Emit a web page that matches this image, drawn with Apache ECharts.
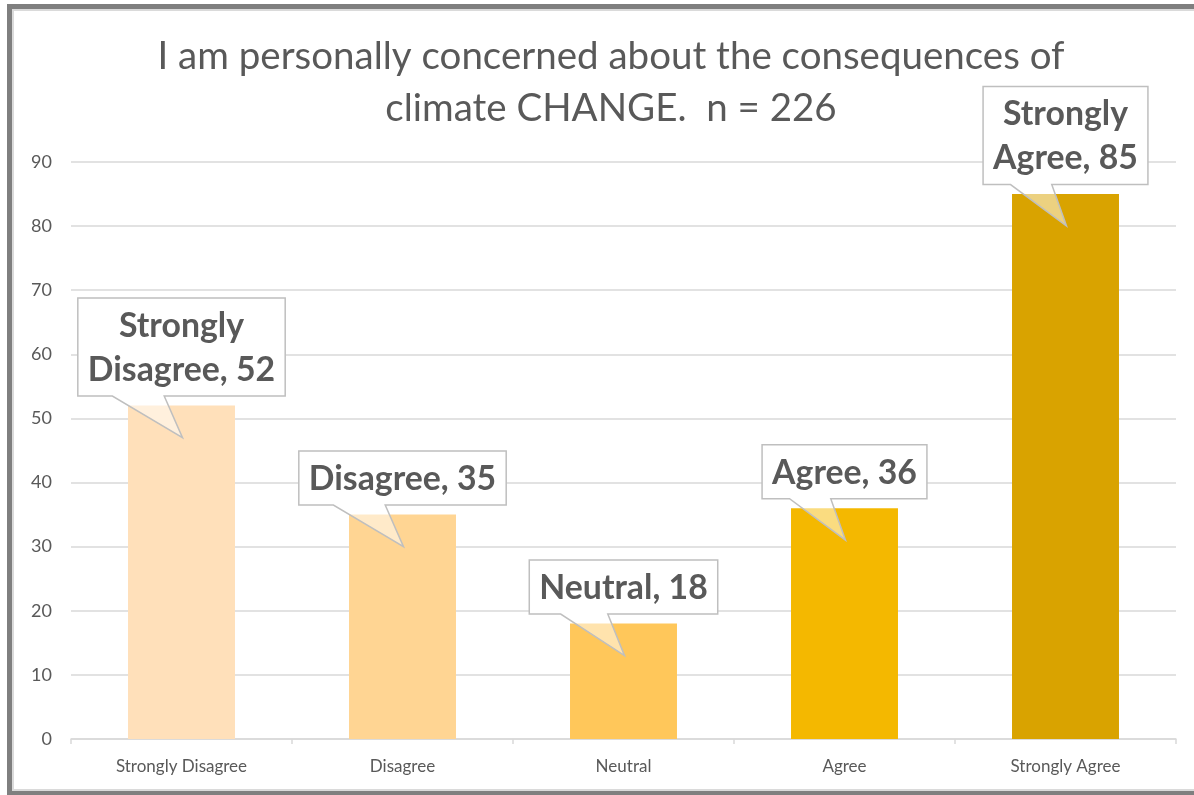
<!DOCTYPE html>
<html>
<head>
<meta charset="utf-8">
<script src="https://cdn.jsdelivr.net/npm/echarts@6/dist/echarts.min.js"></script>
<style>
html,body{margin:0;padding:0;background:#fff;}
#chart{position:absolute;left:0;top:0;width:1194px;height:795px;}
#frame{position:absolute;left:7px;top:4px;width:1210px;height:792px;box-sizing:border-box;border:5px solid #7f7f7f;box-shadow:inset 0 0 0 2px #dadada;pointer-events:none;}
</style>
</head>
<body>
<div id="chart"></div>
<div id="frame"></div>
<script>
const titleText = 'I am personally concerned about the consequences of\nclimate CHANGE.  n = 226';
const categories = ['Strongly Disagree', 'Disagree', 'Neutral', 'Agree', 'Strongly Agree'];
const values = [52, 35, 18, 36, 85];
const yMax = 90;
const yInterval = 10;

const palette = ['#FFE0BA', '#FFD593', '#FFC75A', '#F4B800', '#D9A300'];
const FONT = 'Lato';
const LBL_SIZE = 33.8;
const LBL_LH = 44;

const labelLines = categories.map((c, i) => {
  if (c.indexOf('Strongly ') === 0) return ['Strongly', c.slice(9) + ', ' + values[i]];
  return [c + ', ' + values[i]];
});

const mctx = document.createElement('canvas').getContext('2d');
mctx.font = 'bold ' + LBL_SIZE + 'px ' + FONT;

function renderCallout(params, api) {
  const idx = api.value(0);
  const v = api.value(1);
  const p = api.coord([idx, v]);
  const lines = labelLines[params.dataIndex];
  const tw = Math.max.apply(null, lines.map(l => mctx.measureText(l).width));
  const w = tw + 20;
  const h = lines.length * LBL_LH + 10;
  const x0 = p[0] - w / 2;
  const yb = p[1] - 9.5;
  const y0 = yb - h;
  const bl = x0 + w / 6, br = x0 + w * 5 / 12;
  const tip = [p[0] + 1, p[1] + 32];
  return {
    type: 'group',
    children: [
      { type: 'rect', shape: { x: x0, y: y0, width: w, height: h }, style: { fill: '#ffffff' } },
      { type: 'polygon', shape: { points: [[bl, yb], tip, [br, yb]] }, style: { fill: 'rgba(255,255,255,0.5)' } },
      { type: 'polygon', shape: { points: [[x0, y0], [x0 + w, y0], [x0 + w, yb], [br, yb], tip, [bl, yb], [x0, yb]] },
        style: { fill: 'none', stroke: '#bfbfbf', lineWidth: 1.5 } },
      { type: 'text', x: p[0], y: y0 + h / 2 + 1,
        style: { text: lines.join('\n'), fontSize: LBL_SIZE, fontWeight: 'bold', fontFamily: FONT,
                 fill: '#595959', align: 'center', verticalAlign: 'middle', lineHeight: LBL_LH } }
    ]
  };
}

const chart = echarts.init(document.getElementById('chart'), null, { renderer: 'canvas' });
chart.setOption({
  animation: false,
  backgroundColor: '#ffffff',
  title: {
    text: titleText,
    left: 606,
    textAlign: 'center',
    top: 26,
    textStyle: { fontFamily: FONT, fontSize: 38.5, fontWeight: 'normal', color: '#595959', lineHeight: 52 }
  },
  grid: { left: 71, right: 18, top: 162, bottom: 56, containLabel: false },
  xAxis: {
    type: 'category',
    data: categories,
    axisLine: { lineStyle: { color: '#d9d9d9', width: 1.5 } },
    axisTick: { show: true, length: 5, lineStyle: { color: '#d9d9d9', width: 1.5 } },
    axisLabel: { color: '#595959', fontFamily: FONT, fontSize: 17, margin: 19 }
  },
  yAxis: {
    type: 'value',
    min: 0, max: yMax, interval: yInterval,
    axisLine: { show: false },
    axisTick: { show: false },
    axisLabel: { color: '#595959', fontFamily: FONT, fontSize: 18, margin: 19 },
    splitLine: { lineStyle: { color: '#d9d9d9', width: 1.5 } }
  },
  series: [
    {
      type: 'bar',
      barWidth: '48.4%',
      data: values.map((v, i) => ({ value: v, itemStyle: { color: palette[i] } })),
      z: 2
    },
    {
      type: 'custom',
      renderItem: renderCallout,
      data: values.map((v, i) => [i, v]),
      z: 5,
      clip: false
    }
  ]
});
</script>
</body>
</html>
